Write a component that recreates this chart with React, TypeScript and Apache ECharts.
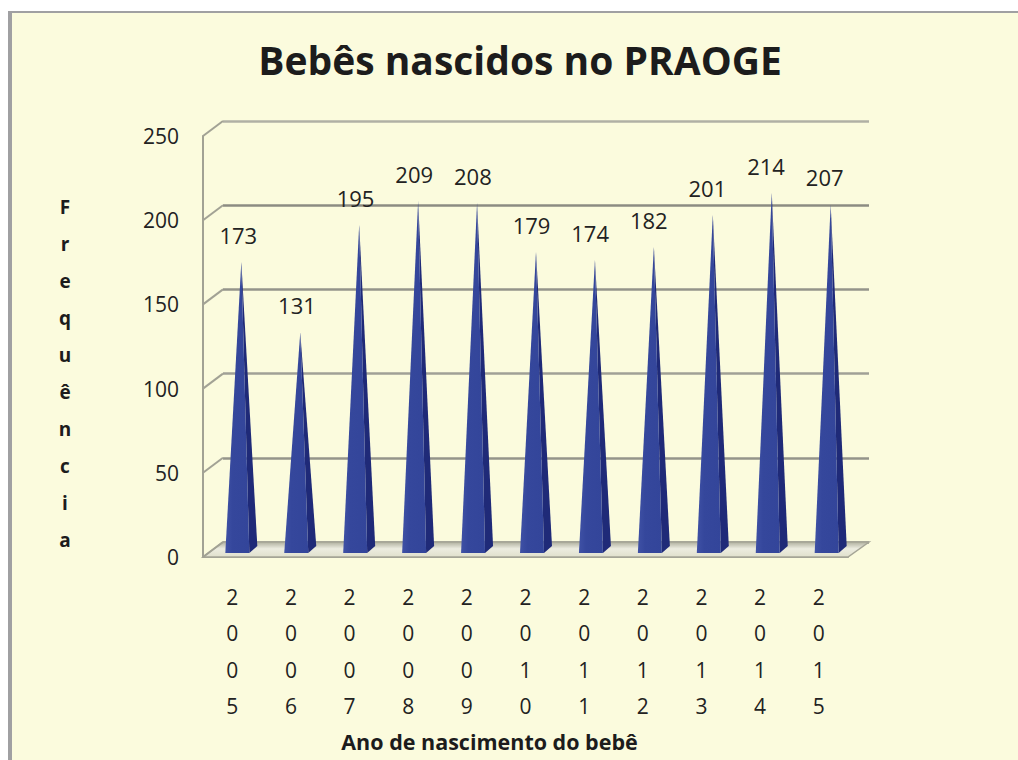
import React, { useEffect, useRef } from "react";
import * as echarts from "echarts";

const categories = ["2005","2006","2007","2008","2009","2010","2011","2012","2013","2014","2015"];
const births = [173,131,195,209,208,179,174,182,201,214,207];
const yTicks = [0,50,100,150,200,250];
const titleText = "Bebês nascidos no PRAOGE";
const yName = "Frequência";
const xName = "Ano de nascimento do bebê";
const FONT = "Open Sans";
const CREAM = "#fbfbdd";

export default function App() {
  const ref = useRef<HTMLDivElement>(null);
  useEffect(() => {
    const chart = echarts.init(ref.current!, undefined, { renderer: "svg" });
    const bar = (params: any, api: any) => {
      const v = api.value(1);
      const base = api.coord([api.value(0), 0]);
      const top = api.coord([api.value(0), v]);
      const bx = base[0] + params.dataIndex * 0.3, by = base[1] - 4;
      const ty = top[1] - 4;
      return {
        type: "group",
        children: [
          { type: "polygon", shape: { points: [[bx + 17, by], [bx + 25, by - 7], [bx + 9, ty], [bx + 9, ty]] },
            style: { fill: "#1f2a78" } },
          { type: "polygon", shape: { points: [[bx - 7, by], [bx + 17, by], [bx + 9, ty]] },
            style: { fill: new echarts.graphic.LinearGradient(0, 0, 1, 0, [
              { offset: 0, color: "#3f51a5" }, { offset: 0.3, color: "#35479c" }, { offset: 1, color: "#33459a" },
            ]) } },
          { type: "text", x: base[0] + 6, y: ty - 27,
            style: { text: String(v), fill: "#222222", font: `22px "${FONT}"`, align: "center", verticalAlign: "middle" } },
        ],
      };
    };
    const floor = (params: any, api: any) => {
      const band = api.size([1, 0])[0];
      const a = api.coord([0, 0]);
      const left = a[0] - band / 2;
      const right = a[0] + band * 10.5;
      return {
        type: "polygon",
        shape: { points: [[left, a[1]], [left + 20, a[1] - 15], [right + 21, a[1] - 15], [right, a[1]]] },
        style: { fill: new echarts.graphic.LinearGradient(0, 0, 0, 1, [
          { offset: 0, color: "#b0b09e" }, { offset: 0.45, color: "#ecece0" }, { offset: 1, color: "#e0e0cc" },
        ]), stroke: "#a5a596", lineWidth: 1.5 },
      };
    };
    const wallLink = (params: any, api: any) => {
      const band = api.size([1, 0])[0];
      const p = api.coord([0, api.value(0)]);
      const x = p[0] - band / 2;
      return {
        type: "line",
        shape: { x1: x, y1: p[1], x2: x + 20, y2: p[1] - 15 },
        style: { stroke: "#a2a294", lineWidth: 2 },
      };
    };
    chart.setOption({
      animation: false,
      backgroundColor: "#ffffff",
      textStyle: { fontFamily: FONT },
      graphic: [
        { type: "rect", z: 0, shape: { x: 8, y: 11, width: 1010, height: 749 }, style: { fill: "#a0a0a2" } },
        { type: "rect", z: 0, shape: { x: 12, y: 13, width: 1006, height: 747 }, style: { fill: CREAM } },
        { type: "text", z: 5, x: 65, y: 373, style: {
          text: yName.split("").join("\n"), font: `bold 19px "${FONT}"`, lineHeight: 37,
          fill: "#1c1c1c", align: "center", verticalAlign: "middle",
        } },
      ],
      title: {
        text: titleText, left: 515, top: 35, textAlign: "center",
        textStyle: { fontFamily: FONT, fontSize: 39, fontWeight: "bold", color: "#1c1c1c" },
      },
      grid: [
        { left: 203, top: 136, width: 645, height: 421, outerBoundsMode: "none" },
        { left: 223, top: 121, width: 646, height: 421, outerBoundsMode: "none" },
      ],
      xAxis: [
        {
          type: "category", gridIndex: 0, data: categories,
          axisLine: { lineStyle: { color: "#a2a294", width: 2 } }, axisTick: { show: false },
          axisLabel: {
            formatter: (s: string) => s.split("").join("\n"),
            fontFamily: FONT, fontSize: 21, color: "#222222", lineHeight: 36.3, margin: 22,
          },
          name: xName, nameLocation: "middle", nameGap: 173,
          nameTextStyle: { fontFamily: FONT, fontSize: 21.5, fontWeight: "bold", color: "#1c1c1c", padding: [0, 72, 0, 0] },
        },
        { type: "category", gridIndex: 1, data: categories, show: false },
      ],
      yAxis: [
        {
          type: "value", gridIndex: 0, min: 0, max: 250, interval: 50,
          axisLine: { show: true, lineStyle: { color: "#a2a294", width: 2 } }, axisTick: { show: false },
          splitLine: { show: false },
          axisLabel: { fontFamily: FONT, fontSize: 21, color: "#222222", margin: 24 },
        },
        {
          type: "value", gridIndex: 1, min: 0, max: 250, interval: 50,
          axisLine: { show: false }, axisTick: { show: false }, axisLabel: { show: false },
          splitLine: { show: true, lineStyle: { color: ["#94948a", "#94948a", "#a0a096", "#94948a", "#8c8c82", "#b0b0a4"], width: 2.5 } },
        },
      ],
      series: [
        { type: "custom", name: "floor", xAxisIndex: 0, yAxisIndex: 0, data: [[0, 0]], renderItem: floor, silent: true, z: 2, clip: false },
        { type: "custom", name: "wall", xAxisIndex: 0, yAxisIndex: 0, data: yTicks.map((t) => [t]), renderItem: wallLink, silent: true, z: 2, clip: false },
        { type: "custom", name: "Bebês", xAxisIndex: 0, yAxisIndex: 0, data: births.map((v, i) => [i, v]), renderItem: bar, z: 3, clip: false },
      ],
    });
    return () => chart.dispose();
  }, []);
  return <div ref={ref} style={{ position: "fixed", left: 0, top: 0, width: 1018, height: 760 }} />;
}
